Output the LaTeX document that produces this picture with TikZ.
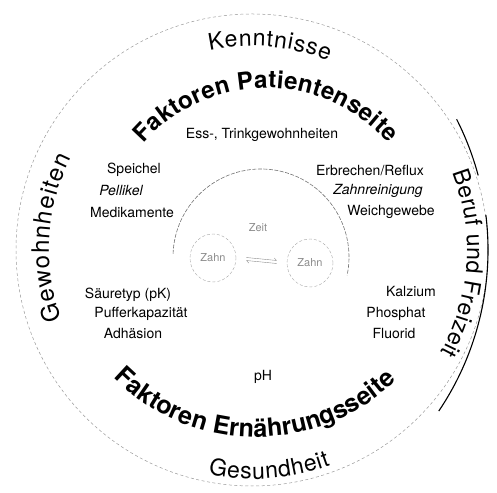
\documentclass[tikz,border=0pt]{standalone}
\usepackage{fontspec}
\setmainfont{TeX Gyre Heros}
\usetikzlibrary{arrows.meta}
\usetikzlibrary{positioning}
\usetikzlibrary{decorations.text}
\usetikzlibrary{shapes.geometric}

\tikzset{
    faktor/.style={font=\fontsize{14}{15}\selectfont, inner sep=0pt},
    zentrum/.style={font=\fontsize{11}{12}\selectfont, text=black!45},
    zahnform/.style={zentrum, ellipse, draw=black!35, densely dashed, minimum width=46pt, minimum height=48pt, inner sep=0pt},
    zahnpfeil/.style={draw=black!45, -{Straight Barb[harpoon]}, shorten >=10pt, shorten <=10pt},
    bogentext/.style={decorate, decoration={text along path, text align=fit to path, text={#1}}},
}

\begin{document}
\begin{tikzpicture}[x=1pt, y=1pt]
        \useasboundingbox (0,0) rectangle (497,492);
        \coordinate (mitte) at (252,242);
        \coordinate (bogen) at (200,242);
        \coordinate (innen) at (261,235);

        % aeusserer Kreis
        \draw[black!40, dash pattern=on 3pt off 2.5pt, line width=0.5pt] (mitte) circle[radius=236];
        \draw[line width=1.1pt] ([shift={(27:288)}]bogen) arc[start angle=27, end angle=15, radius=288];
        \draw[line width=1.1pt] ([shift={(7:288)}]bogen) arc[start angle=7, end angle=-34, radius=288];

        % Umfeld
        \path[bogentext={|\fontsize{23}{23}\selectfont|Kenntnisse}]
            ([shift={(102:204)}]mitte) arc[start angle=102, end angle=68, radius=204];
        \path[bogentext={|\fontsize{23}{23}\selectfont|Beruf und Freizeit}]
            ([shift={(21:215)}]mitte) arc[start angle=21, end angle=-28.5, radius=215];
        \path[bogentext={|\fontsize{23}{23}\selectfont|Gesundheit}]
            ([shift={(259:229)}]mitte) arc[start angle=259, end angle=290, radius=229];
        \path[bogentext={|\fontsize{24}{24}\selectfont|Gewohnheiten}]
            ([shift={(200:203)}]mitte) arc[start angle=200, end angle=153, radius=203];

        % Faktoren
        \path[bogentext={|\bfseries\fontsize{24}{24}\selectfont|Faktoren Patientenseite}]
            ([shift={(139:162)}]266,242) arc[start angle=139, end angle=41, radius=162];
        \path[bogentext={|\bfseries\fontsize{25}{25}\selectfont|Faktoren Ernährungsseite}]
            ([shift={(225:202)}]256,257) arc[start angle=225, end angle=314, radius=202];

        \node[faktor] (ess) at (262,357) {Ess-, Trinkgewohnheiten};
        \node[faktor] (speichel) at (134,322) {Speichel};
        \node[faktor, font=\fontsize{14}{15}\selectfont\itshape] (pellikel) at (121,301) {Pellikel};
        \node[faktor] (medikamente) at (132,279) {Medikamente};
        \node[faktor] (erbrechen) at (370,321) {Erbrechen/Reflux};
        \node[faktor, font=\fontsize{14}{15}\selectfont\itshape] (reinigung) at (378,301) {Zahnreinigung};
        \node[faktor] (weichgewebe) at (391,280) {Weichgewebe};
        \node[faktor] (saeure) at (128,197) {Säuretyp (pK)};
        \node[faktor] (puffer) at (141,178) {Pufferkapazität};
        \node[faktor] (adhaesion) at (133,158) {Adhäsion};
        \node[faktor] (kalzium) at (411,200) {Kalzium};
        \node[faktor] (phosphat) at (396,178) {Phosphat};
        \node[faktor] (fluorid) at (394,158) {Fluorid};
        \node[faktor] (ph) at (263,115) {pH};

        % Zahn und Zeit
        \draw[black!55, dash pattern=on 4pt off 1.5pt, line width=0.6pt]
            ([shift={(178:88)}]innen) arc[start angle=178, end angle=-12, radius=88];
        \node[zentrum] (zeit) at (258,264) {Zeit};
        \node[zahnform] (zahn-links) at (213,234) {Zahn};
        \node[zahnform] (zahn-rechts) at (310,229) {Zahn};
        \draw[zahnpfeil] ([yshift=1.5pt]zahn-links.east) -- ([yshift=1.5pt]zahn-rechts.west);
        \draw[zahnpfeil] ([yshift=-1.5pt]zahn-rechts.west) -- ([yshift=-1.5pt]zahn-links.east);
\end{tikzpicture}
\end{document}
